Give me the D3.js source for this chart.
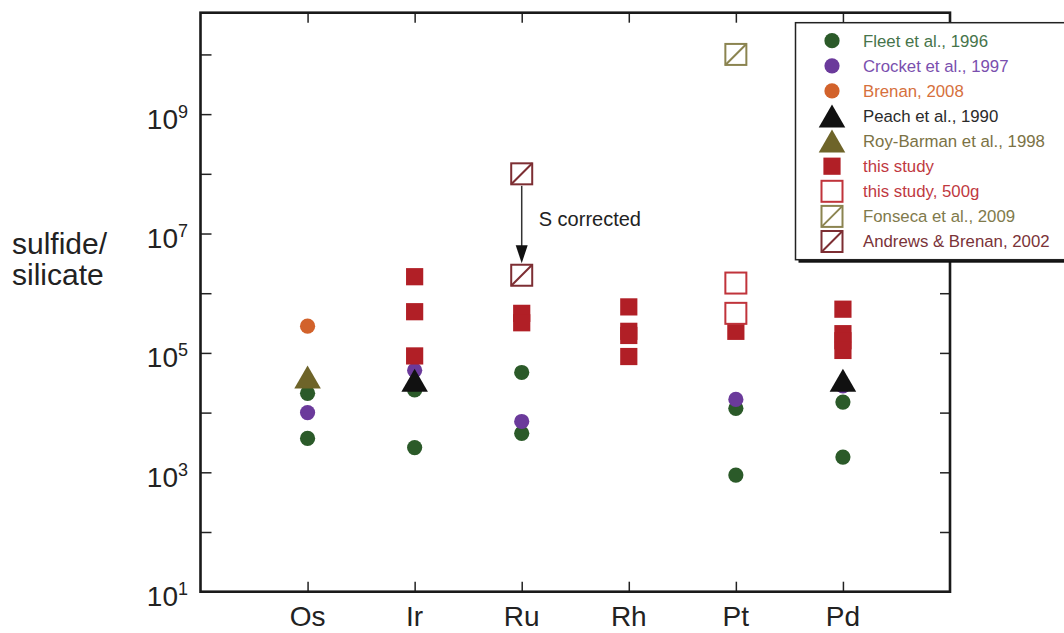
<!DOCTYPE html>
<html><head><meta charset="utf-8">
<script src="https://cdn.jsdelivr.net/npm/d3@7"></script>
<style>html,body{margin:0;padding:0;background:#fff;}svg{display:block;font-family:"Liberation Sans",Arial,Helvetica,sans-serif;}</style>
</head><body>
<svg id="c" width="1064" height="633"></svg>
<script>
const categories = ["Os","Ir","Ru","Rh","Pt","Pd"];
const yTickExponents = [1,2,3,4,5,6,7,8,9,10];
const yLabelExponents = [1,3,5,7,9];

const fleet1996 = [["Os",2.1e4],["Os",3.7e3],["Ir",2.4e4],["Ir",2.6e3],["Ru",4.7e4],["Ru",4.5e3],["Pt",1.18e4],["Pt",900],["Pd",1.5e4],["Pd",1.8e3]];
const crocket1997 = [["Os",1.0e4],["Ir",5.1e4],["Ru",7.1e3],["Pt",1.66e4],["Pd",2.8e4]];
const brenan2008 = [["Os",2.8e5]];
const peach1990 = [["Ir",3.0e4],["Pd",3.0e4]];
const royBarman1998 = [["Os",3.4e4]];
const thisStudy = [["Ir",1.89e6],["Ir",4.9e5],["Ir",8.9e4],["Ru",4.6e5],["Ru",3.2e5],["Rh",5.9e5],["Rh",2.3e5],["Rh",1.96e5],["Rh",8.7e4],["Pt",2.3e5],["Pd",5.4e5],["Pd",2.1e5],["Pd",1.6e5],["Pd",1.1e5]];
const thisStudy500g = [["Pt",1.48e6],["Pt",4.6e5]];
const fonseca2009 = [["Pt",1.0e10]];
const andrews2002 = [["Ru",1.0e8],["Ru",2.0e6]];
const correction = {el:"Ru", from:1.0e8, to:2.0e6, label:"S corrected"};

const legendItems = [
  {name:"Fleet et al., 1996", type:"circle", color:"#2b5a29", text:"#46744a"},
  {name:"Crocket et al., 1997", type:"circle", color:"#6b3a9b", text:"#7a4fae"},
  {name:"Brenan, 2008", type:"circle", color:"#d2622b", text:"#d6703c"},
  {name:"Peach et al., 1990", type:"triangle", color:"#111111", text:"#2a2a2a"},
  {name:"Roy-Barman et al., 1998", type:"triangle", color:"#6e6429", text:"#7b7244"},
  {name:"this study", type:"square", color:"#b11f26", text:"#c0393f"},
  {name:"this study, 500g", type:"open", color:"#c0343b", text:"#c0393f"},
  {name:"Fonseca et al., 2009", type:"slash", color:"#8b8450", text:"#7f7a4c"},
  {name:"Andrews & Brenan, 2002", type:"slash", color:"#7d2e33", text:"#7a3338"}
];

const svg = d3.select("#c");
const L = 200.5, R = 950, T = 12.7, B = 591.7;
const x = d3.scalePoint().domain(categories).range([L, R]).padding(1);
const y = d3.scaleLog().domain([10, 5e10]).range([B, T]);

// axes (inward ticks)
const tv = yTickExponents.map(e => Math.pow(10, e));
svg.append("g").attr("transform",`translate(${L},0)`)
  .call(d3.axisRight(y).tickValues(tv).tickSize(11).tickFormat(""))
  .call(g => g.select(".domain").remove())
  .call(g => g.selectAll("line").attr("stroke","#222").attr("stroke-width",1.5));
svg.append("g").attr("transform",`translate(${R},0)`)
  .call(d3.axisLeft(y).tickValues(tv).tickSize(10).tickFormat(""))
  .call(g => g.select(".domain").remove())
  .call(g => g.selectAll("line").attr("stroke","#222").attr("stroke-width",1.5));
svg.append("g").attr("transform",`translate(0,${B})`)
  .call(d3.axisTop(x).tickSize(10).tickFormat(""))
  .call(g => g.select(".domain").remove())
  .call(g => g.selectAll("line").attr("stroke","#222").attr("stroke-width",1.5));
svg.append("g").attr("transform",`translate(0,${T})`)
  .call(d3.axisBottom(x).tickSize(10).tickFormat(""))
  .call(g => g.select(".domain").remove())
  .call(g => g.selectAll("line").attr("stroke","#222").attr("stroke-width",1.5));

svg.append("rect").attr("x",L).attr("y",T).attr("width",R-L).attr("height",B-T)
  .attr("fill","none").attr("stroke","#1a1a1a").attr("stroke-width",2.6);

// y labels
yLabelExponents.forEach(e => {
  const t = svg.append("text").attr("x",188).attr("y",y(Math.pow(10,e))+14.5)
    .attr("text-anchor","end").attr("fill","#222").attr("font-size",28);
  t.append("tspan").text("10");
  t.append("tspan").attr("dy",-11).attr("font-size",18).text(String(e));
});
// x labels
categories.forEach(c => {
  svg.append("text").attr("x",x(c)).attr("y",626).attr("text-anchor","middle")
    .attr("fill","#222").attr("font-size",28).text(c);
});
// y title (one text, two lines)
{
  const t = svg.append("text").attr("font-size",30).attr("fill","#222");
  t.append("tspan").attr("x",12).attr("y",254).text("sulfide/");
  t.append("tspan").attr("x",12).attr("y",285).text("silicate");
}

// marker drawers
const triPath = d3.symbol().type(d3.symbolTriangle).size(305)();
function drawMarker(g, type, color, cx, cy) {
  if (type === "circle") {
    g.append("circle").attr("cx",cx).attr("cy",cy).attr("r",7.6).attr("fill",color);
  } else if (type === "triangle") {
    g.append("path").attr("d",triPath).attr("transform",`translate(${cx},${cy})`).attr("fill",color);
  } else if (type === "square") {
    g.append("rect").attr("x",cx-8.6).attr("y",cy-8.6).attr("width",17.2).attr("height",17.2).attr("fill",color);
  } else if (type === "open") {
    g.append("rect").attr("x",cx-10.5).attr("y",cy-10.5).attr("width",21).attr("height",21)
      .attr("fill","#fff").attr("stroke",color).attr("stroke-width",2);
  } else if (type === "slash") {
    g.append("rect").attr("x",cx-10.5).attr("y",cy-10.5).attr("width",21).attr("height",21)
      .attr("fill","#fff").attr("stroke",color).attr("stroke-width",2);
    g.append("line").attr("x1",cx-10.5).attr("y1",cy+10.5).attr("x2",cx+10.5).attr("y2",cy-10.5)
      .attr("stroke",color).attr("stroke-width",2);
  }
}
function series(data, item) {
  const g = svg.append("g");
  data.forEach(d => drawMarker(g, item.type, item.color, x(d[0]), y(d[1])));
}

// correction arrow
{
  const cx = x(correction.el);
  const y1 = y(correction.from) + 12, y2 = y(correction.to) - 12;
  svg.append("line").attr("x1",cx).attr("y1",y1).attr("x2",cx).attr("y2",y2-16)
    .attr("stroke","#333").attr("stroke-width",1.5);
  svg.append("path").attr("d",`M${cx},${y2} L${cx-6},${y2-18} L${cx+6},${y2-18} Z`).attr("fill","#111");
  svg.append("text").attr("x",cx+17).attr("y",(y1+y2)/2+1).attr("font-size",20).attr("fill","#222").text(correction.label);
}

series(fleet1996, legendItems[0]);
series(crocket1997, legendItems[1]);
series(brenan2008, legendItems[2]);
series(thisStudy, legendItems[5]);
series(thisStudy500g, legendItems[6]);
series(fonseca2009, legendItems[7]);
series(andrews2002, legendItems[8]);
series(royBarman1998, legendItems[4]);
series(peach1990, legendItems[3]);

// legend
const lg = svg.append("g");
lg.append("rect").attr("x",798.5).attr("y",25.7).attr("width",280).attr("height",237).attr("fill","#111");
lg.append("rect").attr("x",795.5).attr("y",22.7).attr("width",280).attr("height",237)
  .attr("fill","#fff").attr("stroke","#222").attr("stroke-width",1.5);
legendItems.forEach((it, i) => {
  const ry = 40.7 + i * 25.1;
  const my = it.type === "triangle" ? ry + 3.8 : ry;
  drawMarker(lg, it.type, it.color, 832, my);
  lg.append("text").attr("x",863).attr("y",ry).attr("dy","0.35em").attr("font-size",16.8)
    .attr("fill",it.text).text(it.name);
});
</script>
</body></html>
